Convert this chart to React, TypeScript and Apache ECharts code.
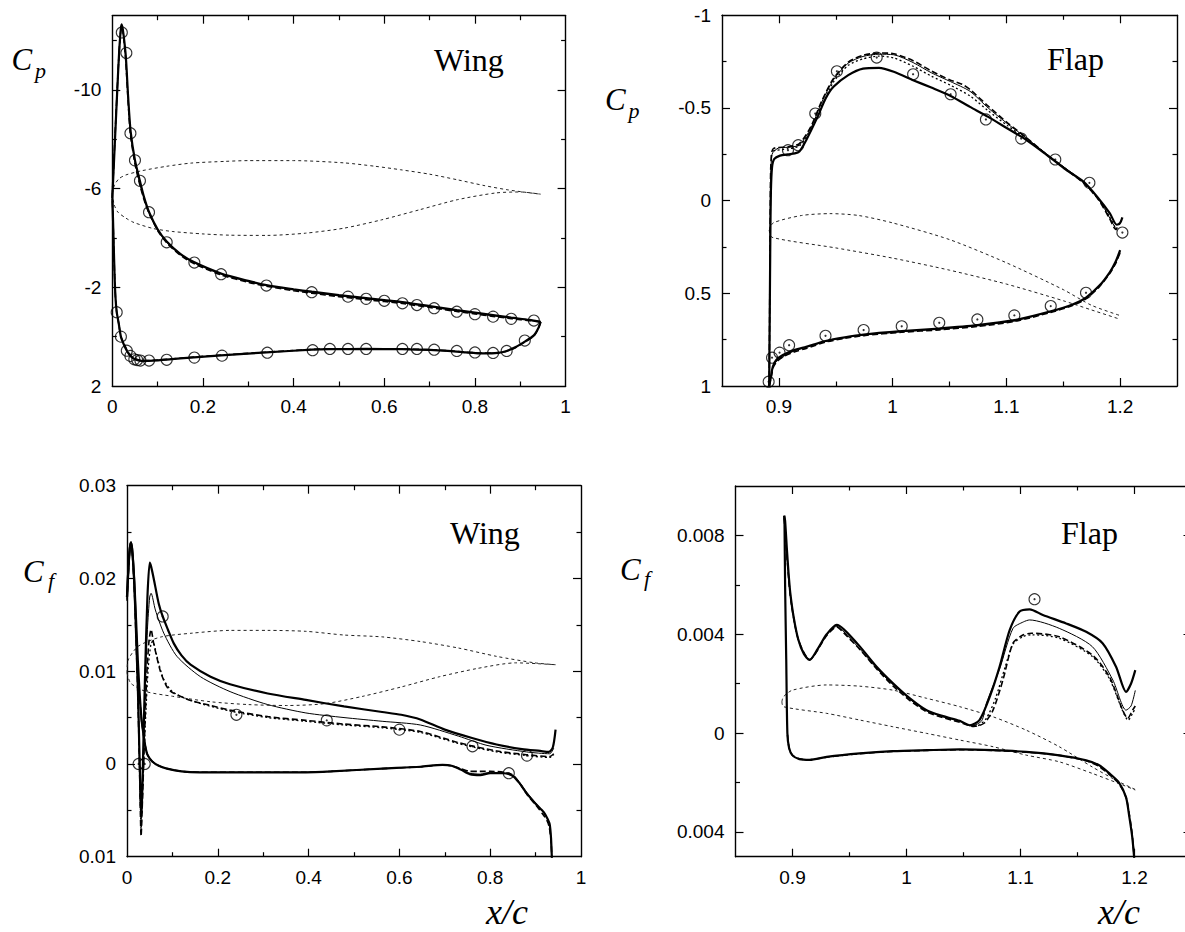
import React, { useEffect, useRef } from "react";
import * as echarts from "echarts";

// ================= Panel 1 : Wing, Cp =================
const wingCpThickUpper = [[0.0,-5.6],[0.005,-7.6],[0.01,-9.6],[0.015,-11.5],[0.019,-12.5],[0.021,-12.65],[0.025,-12.2],[0.03,-11.3],[0.035,-9.7],[0.0405,-8.3],[0.05,-7.15],[0.061,-6.3],[0.07,-5.65],[0.081,-5.05],[0.1,-4.35],[0.12,-3.85],[0.15,-3.35],[0.18,-3.02],[0.24,-2.56],[0.3,-2.26],[0.34,-2.09],[0.4,-1.92],[0.44,-1.82],[0.5,-1.68],[0.56,-1.56],[0.6,-1.48],[0.64,-1.4],[0.7,-1.24],[0.76,-1.07],[0.8,-0.97],[0.84,-0.87],[0.88,-0.77],[0.92,-0.68],[0.945,-0.6]];
const wingCpThickLower = [[0.945,-0.6],[0.94,-0.35],[0.93,-0.05],[0.91,0.2],[0.89,0.42],[0.87,0.58],[0.85,0.66],[0.82,0.68],[0.78,0.64],[0.74,0.58],[0.7,0.54],[0.64,0.51],[0.56,0.5],[0.48,0.51],[0.44,0.53],[0.34,0.64],[0.24,0.76],[0.18,0.84],[0.12,0.93],[0.09,0.97],[0.07,0.98],[0.06,0.97],[0.05,0.92],[0.04,0.78],[0.032,0.57],[0.025,0.3],[0.019,0.0],[0.014,-0.55],[0.0097,-1.0],[0.007,-1.6],[0.005,-2.5],[0.003,-3.8],[0.0015,-4.8],[0.0,-5.6]];
const wingCpDashedUpper = [[0.0,-5.7],[0.005,-7.7],[0.01,-9.7],[0.015,-11.5],[0.019,-12.45],[0.021,-12.55],[0.025,-12.15],[0.03,-11.1],[0.035,-9.5],[0.04,-8.2],[0.05,-7.0],[0.06,-6.2],[0.07,-5.55],[0.081,-5.0],[0.1,-4.3],[0.12,-3.8],[0.15,-3.3],[0.18,-2.96],[0.24,-2.5],[0.3,-2.2],[0.34,-2.04],[0.4,-1.86],[0.44,-1.76],[0.5,-1.62],[0.56,-1.5],[0.6,-1.42],[0.64,-1.34],[0.7,-1.18],[0.76,-1.02],[0.8,-0.92],[0.84,-0.82],[0.88,-0.73],[0.92,-0.65],[0.945,-0.6]];
const wingCpDashedLower = [[0.945,-0.6],[0.94,-0.33],[0.93,-0.03],[0.91,0.22],[0.89,0.44],[0.87,0.59],[0.85,0.66],[0.82,0.67],[0.78,0.63],[0.74,0.57],[0.7,0.53],[0.64,0.5],[0.56,0.49],[0.48,0.5],[0.44,0.52],[0.34,0.63],[0.24,0.75],[0.18,0.83],[0.12,0.92],[0.09,0.96],[0.07,0.97],[0.055,0.93],[0.045,0.84],[0.035,0.64],[0.027,0.33],[0.019,0.0],[0.014,-0.55],[0.0097,-1.0],[0.007,-1.6],[0.005,-2.5],[0.003,-3.8],[0.0015,-4.8],[0.0,-5.7]];
const wingCpThinUpper = [[0.0,-5.65],[0.005,-7.65],[0.01,-9.65],[0.015,-11.5],[0.019,-12.48],[0.021,-12.6],[0.025,-12.18],[0.03,-11.2],[0.035,-9.6],[0.04,-8.25],[0.05,-7.08],[0.06,-6.25],[0.07,-5.6],[0.081,-5.02],[0.1,-4.32],[0.12,-3.82],[0.15,-3.32],[0.18,-2.99],[0.24,-2.53],[0.3,-2.23],[0.34,-2.06],[0.4,-1.89],[0.44,-1.79],[0.5,-1.65],[0.56,-1.53],[0.6,-1.45],[0.64,-1.37],[0.7,-1.21],[0.76,-1.05],[0.8,-0.95],[0.84,-0.85],[0.88,-0.75],[0.92,-0.66],[0.945,-0.6]];
const wingCpExpUpper = [[0.021,-12.32],[0.031,-11.49],[0.040,-8.24],[0.050,-7.14],[0.061,-6.31],[0.081,-5.04],[0.12,-3.82],[0.181,-3.0],[0.24,-2.53],[0.34,-2.07],[0.44,-1.80],[0.52,-1.62],[0.56,-1.53],[0.60,-1.45],[0.64,-1.35],[0.672,-1.28],[0.71,-1.15],[0.76,-1.01],[0.80,-0.91],[0.84,-0.81],[0.88,-0.72],[0.93,-0.65]];
const wingCpExpLower = [[0.0097,-0.99],[0.019,0.0],[0.032,0.57],[0.040,0.78],[0.0486,0.92],[0.055,0.95],[0.062,0.97],[0.081,0.97],[0.12,0.94],[0.181,0.85],[0.242,0.77],[0.342,0.65],[0.442,0.55],[0.48,0.50],[0.52,0.50],[0.56,0.50],[0.64,0.50],[0.672,0.50],[0.71,0.53],[0.76,0.58],[0.80,0.64],[0.84,0.66],[0.87,0.58],[0.91,0.16]];
const wingShapeCpUpper = [[0.0,-5.8],[0.005,-6.15],[0.015,-6.4],[0.03,-6.55],[0.065,-6.72],[0.12,-6.9],[0.174,-7.03],[0.25,-7.1],[0.3,-7.13],[0.4,-7.13],[0.51,-7.04],[0.58,-6.9],[0.636,-6.76],[0.7,-6.58],[0.762,-6.35],[0.82,-6.12],[0.871,-5.95],[0.91,-5.85],[0.945,-5.77]];
const wingShapeCpLower = [[0.0,-5.8],[0.004,-5.35],[0.012,-5.05],[0.03,-4.8],[0.048,-4.62],[0.09,-4.38],[0.132,-4.26],[0.2,-4.16],[0.258,-4.11],[0.342,-4.1],[0.426,-4.19],[0.51,-4.39],[0.594,-4.73],[0.678,-5.14],[0.762,-5.55],[0.846,-5.82],[0.9,-5.86],[0.945,-5.77]];

// ================= Panel 2 : Flap, Cp =================
const flapCpThickUpper = [[0.8915,1.0],[0.892,0.6],[0.8925,0.2],[0.893,-0.05],[0.894,-0.18],[0.896,-0.225],[0.901,-0.243],[0.908,-0.25],[0.914,-0.255],[0.918,-0.265],[0.924,-0.326],[0.934,-0.452],[0.941,-0.55],[0.948,-0.614],[0.961,-0.677],[0.974,-0.712],[0.988,-0.716],[1.001,-0.695],[1.018,-0.650],[1.034,-0.610],[1.051,-0.565],[1.068,-0.506],[1.084,-0.452],[1.101,-0.389],[1.118,-0.326],[1.134,-0.254],[1.151,-0.173],[1.168,-0.101],[1.181,-0.012],[1.191,0.069],[1.197,0.13],[1.2,0.12],[1.202,0.09]];
const flapCpThickLower = [[0.8915,1.0],[0.893,0.95],[0.8947,0.895],[0.8977,0.86],[0.9035,0.833],[0.914,0.805],[0.924,0.788],[0.941,0.757],[0.958,0.737],[0.9745,0.722],[1.008,0.704],[1.041,0.69],[1.0745,0.672],[1.107,0.645],[1.139,0.597],[1.1586,0.559],[1.17,0.523],[1.182,0.457],[1.191,0.385],[1.196,0.33],[1.2,0.267]];
const flapCpDashedUpper = [[0.8915,1.0],[0.892,0.5],[0.8925,0.0],[0.893,-0.2],[0.895,-0.28],[0.908,-0.29],[0.918,-0.308],[0.928,-0.398],[0.938,-0.542],[0.948,-0.659],[0.961,-0.748],[0.974,-0.784],[0.988,-0.797],[1.001,-0.793],[1.018,-0.755],[1.034,-0.70],[1.051,-0.65],[1.061,-0.628],[1.068,-0.60],[1.084,-0.51],[1.101,-0.42],[1.118,-0.338],[1.134,-0.256],[1.151,-0.175],[1.168,-0.094],[1.181,-0.005],[1.191,0.1],[1.196,0.155],[1.2,0.12]];
const flapCpDottedUpper = [[0.895,-0.27],[0.908,-0.28],[0.918,-0.295],[0.928,-0.38],[0.938,-0.52],[0.948,-0.64],[0.961,-0.73],[0.974,-0.765],[0.988,-0.78],[1.001,-0.77],[1.018,-0.725],[1.034,-0.672],[1.051,-0.622],[1.068,-0.565],[1.084,-0.485],[1.101,-0.405],[1.118,-0.332],[1.134,-0.256],[1.151,-0.176],[1.168,-0.096],[1.181,-0.008],[1.191,0.09],[1.196,0.15]];
const flapCpThinUpper = [[0.8915,1.0],[0.8925,0.0],[0.894,-0.25],[0.9,-0.285],[0.908,-0.288],[0.918,-0.3],[0.928,-0.39],[0.938,-0.535],[0.948,-0.652],[0.961,-0.742],[0.974,-0.778],[0.988,-0.79],[1.001,-0.787],[1.018,-0.745],[1.034,-0.69],[1.051,-0.642],[1.068,-0.59],[1.084,-0.5],[1.101,-0.415],[1.118,-0.336],[1.134,-0.258],[1.151,-0.18],[1.168,-0.1],[1.181,-0.01],[1.191,0.095],[1.197,0.16]];
const flapCpDashedLower = [[0.8915,1.0],[0.8937,0.94],[0.895,0.9],[0.898,0.87],[0.9035,0.843],[0.914,0.815],[0.924,0.797],[0.941,0.763],[0.958,0.743],[0.9745,0.728],[1.008,0.71],[1.041,0.697],[1.0745,0.679],[1.107,0.652],[1.139,0.603],[1.1586,0.565],[1.17,0.53],[1.182,0.463],[1.191,0.392],[1.196,0.34],[1.2,0.28]];
const flapCpThinLower = [[0.8915,1.0],[0.8933,0.945],[0.8948,0.897],[0.8978,0.865],[0.9035,0.838],[0.914,0.81],[0.924,0.792],[0.941,0.76],[0.958,0.74],[0.9745,0.725],[1.008,0.707],[1.041,0.693],[1.0745,0.675],[1.107,0.648],[1.139,0.6],[1.1586,0.562],[1.17,0.527],[1.182,0.46],[1.191,0.388],[1.196,0.335],[1.2,0.275]];
const flapCpExpUpper = [[0.908,-0.272],[0.917,-0.299],[0.932,-0.470],[0.951,-0.698],[0.986,-0.772],[1.018,-0.682],[1.051,-0.574],[1.082,-0.438],[1.113,-0.335],[1.143,-0.222],[1.173,-0.096],[1.202,0.172]];
const flapCpExpLower = [[0.891,0.977],[0.894,0.847],[0.9006,0.82],[0.909,0.78],[0.941,0.729],[0.9745,0.698],[1.008,0.678],[1.041,0.659],[1.0745,0.641],[1.107,0.619],[1.139,0.569],[1.170,0.497]];
const flapShapeCpUpper = [[0.8915,0.16],[0.895,0.12],[0.92,0.08],[0.945,0.07],[0.97,0.08],[1.0,0.12],[1.05,0.21],[1.1,0.335],[1.15,0.48],[1.175,0.565],[1.2,0.62]];
const flapShapeCpLower = [[0.8915,0.16],[0.894,0.198],[0.95,0.255],[1.0,0.31],[1.05,0.375],[1.1,0.45],[1.15,0.54],[1.175,0.59],[1.2,0.64]];

// ================= Panel 3 : Wing, Cf =================
const wingCfThickLower = [[0.936,-0.0105],[0.934,-0.008],[0.931,-0.0065],[0.925,-0.0058],[0.918,-0.0052],[0.9,-0.0043],[0.881,-0.0032],[0.865,-0.0021],[0.85,-0.0013],[0.83,-0.001],[0.8,-0.001],[0.778,-0.0012],[0.755,-0.0011],[0.735,-0.0006],[0.715,-0.0002],[0.695,-0.0001],[0.646,-0.0003],[0.562,-0.0005],[0.45,-0.0008],[0.394,-0.0009],[0.3,-0.0009],[0.227,-0.0009],[0.16,-0.0009],[0.12,-0.0008],[0.088,-0.0005],[0.07,-0.0002],[0.055,0.0003],[0.045,0.001],[0.04,0.002],[0.036,0.0033],[0.032,0.0048],[0.028,0.0075],[0.024,0.011],[0.02,0.0155],[0.016,0.0198],[0.012,0.0228],[0.009,0.0239],[0.006,0.0232],[0.003,0.021],[0.0,0.018]];
const wingCfThickUpper = [[0.0,0.018],[0.003,0.021],[0.006,0.0232],[0.009,0.0239],[0.012,0.0228],[0.016,0.0195],[0.02,0.014],[0.024,0.008],[0.027,0.002],[0.029,-0.002],[0.031,-0.0055],[0.033,-0.004],[0.036,0.002],[0.04,0.01],[0.045,0.018],[0.05,0.0217],[0.053,0.0213],[0.0588,0.0200],[0.0698,0.0173],[0.0786,0.0159],[0.09,0.0145],[0.103,0.0130],[0.12,0.0117],[0.14,0.0107],[0.184,0.0094],[0.227,0.0086],[0.31,0.0076],[0.394,0.0069],[0.478,0.0062],[0.562,0.0056],[0.604,0.0053],[0.646,0.0048],[0.7,0.0037],[0.76,0.0028],[0.814,0.0021],[0.87,0.0016],[0.91,0.0014],[0.929,0.0013],[0.938,0.0018],[0.944,0.0037]];
const wingCfThinUpper = [[0.0,0.0178],[0.003,0.0208],[0.006,0.023],[0.009,0.0238],[0.012,0.0226],[0.016,0.0193],[0.02,0.0138],[0.024,0.0078],[0.027,0.0018],[0.029,-0.0025],[0.031,-0.006],[0.033,-0.0045],[0.036,0.001],[0.04,0.008],[0.045,0.0145],[0.05,0.018],[0.053,0.0184],[0.0625,0.0166],[0.081,0.0141],[0.11,0.0116],[0.162,0.0094],[0.227,0.0078],[0.31,0.0064],[0.394,0.0055],[0.478,0.005],[0.562,0.0046],[0.646,0.0042],[0.73,0.003],[0.793,0.002],[0.88,0.0013],[0.931,0.0011],[0.94,0.0017]];
const wingCfDashedUpper = [[0.0,0.0176],[0.003,0.0206],[0.006,0.0229],[0.009,0.0237],[0.012,0.0225],[0.016,0.019],[0.02,0.0135],[0.024,0.0072],[0.027,0.001],[0.029,-0.004],[0.031,-0.0078],[0.034,-0.004],[0.038,0.002],[0.043,0.009],[0.048,0.013],[0.053,0.0145],[0.0588,0.013],[0.0735,0.01],[0.088,0.0083],[0.1,0.0077],[0.143,0.0068],[0.185,0.0063],[0.227,0.0058],[0.31,0.0051],[0.394,0.0047],[0.478,0.0043],[0.562,0.004],[0.646,0.0035],[0.73,0.0023],[0.814,0.0014],[0.88,0.001],[0.931,0.0008],[0.94,0.0011]];
const wingCfDottedUpper = [[0.027,0.0015],[0.029,-0.003],[0.031,-0.007],[0.035,-0.002],[0.04,0.004],[0.047,0.0105],[0.053,0.013],[0.057,0.0132],[0.065,0.0118],[0.08,0.0092],[0.1,0.0078],[0.143,0.0068],[0.227,0.0057],[0.31,0.005],[0.394,0.0046],[0.478,0.0042],[0.562,0.0039],[0.646,0.0034],[0.73,0.0022],[0.814,0.0013],[0.88,0.0009],[0.931,0.0007],[0.94,0.001]];
const wingCfDashedLower = [[0.936,-0.0105],[0.934,-0.0082],[0.93,-0.0068],[0.926,-0.0062],[0.92,-0.0057],[0.9,-0.0044],[0.881,-0.0033],[0.865,-0.0021],[0.85,-0.0012],[0.83,-0.0009],[0.8,-0.0008],[0.778,-0.0008],[0.755,-0.0008],[0.735,-0.0005],[0.715,-0.0002],[0.695,-0.0001],[0.646,-0.0003],[0.562,-0.0005],[0.45,-0.0008],[0.394,-0.0009],[0.3,-0.0009],[0.227,-0.0009],[0.16,-0.0009],[0.12,-0.0008],[0.088,-0.0005],[0.07,-0.0002],[0.055,0.0003],[0.045,0.001],[0.04,0.002],[0.036,0.0033],[0.032,0.0047],[0.028,0.0073]];
const wingCfThinLower = [[0.936,-0.0105],[0.933,-0.0078],[0.929,-0.0062],[0.922,-0.0055],[0.912,-0.0049],[0.9,-0.0042],[0.881,-0.0031],[0.865,-0.002],[0.85,-0.0013],[0.83,-0.001],[0.8,-0.0009],[0.778,-0.0011],[0.755,-0.001],[0.735,-0.0006],[0.715,-0.0002],[0.695,-0.0001],[0.646,-0.0003],[0.562,-0.0005],[0.45,-0.0008],[0.394,-0.0009],[0.3,-0.0009],[0.227,-0.0009],[0.16,-0.0009],[0.12,-0.0008],[0.088,-0.0005],[0.07,-0.0002],[0.055,0.0003],[0.045,0.001],[0.04,0.002],[0.036,0.0033],[0.032,0.0048]];
const wingCfExp = [[0.0256,0.0],[0.039,0.0],[0.0786,0.0159],[0.241,0.0053],[0.44,0.0047],[0.6,0.0037],[0.761,0.0019],[0.841,-0.001],[0.881,0.0009]];
const wingShapeCfUpper = [[0.0,0.0098],[0.0025,0.0112],[0.025,0.0127],[0.0755,0.0137],[0.143,0.0141],[0.227,0.0144],[0.31,0.0144],[0.394,0.0143],[0.478,0.0139],[0.562,0.0137],[0.646,0.0132],[0.73,0.0125],[0.814,0.0116],[0.898,0.0109],[0.944,0.0107]];
const wingShapeCfLower = [[0.0,0.0098],[0.0084,0.0087],[0.042,0.0078],[0.1,0.0073],[0.185,0.0067],[0.268,0.0064],[0.352,0.0063],[0.436,0.0065],[0.52,0.0073],[0.604,0.0083],[0.688,0.0094],[0.772,0.0103],[0.856,0.0109],[0.944,0.0107]];

// ================= Panel 4 : Flap, Cf =================
const flapCfThickLower = [[1.2,-0.0052],[1.198,-0.0042],[1.1955,-0.0034],[1.1926,-0.0026],[1.1864,-0.002],[1.178,-0.00163],[1.169,-0.0013],[1.1576,-0.0011],[1.134,-0.0009],[1.105,-0.00076],[1.076,-0.00069],[1.047,-0.00066],[1.018,-0.00069],[0.988,-0.00073],[0.959,-0.00082],[0.93,-0.00096],[0.915,-0.00108],[0.906,-0.00105],[0.9,-0.0009],[0.897,-0.0006],[0.8955,0.0],[0.8945,0.003],[0.8935,0.006],[0.893,0.0085],[0.8927,0.0088]];
const flapCfThickUpper = [[0.8927,0.0088],[0.8935,0.0086],[0.895,0.0075],[0.8965,0.0065],[0.898,0.0057],[0.901,0.0047],[0.905,0.0038],[0.91,0.0032],[0.915,0.00296],[0.922,0.0034],[0.93,0.0040],[0.9388,0.00438],[0.945,0.0042],[0.9592,0.0035],[0.9738,0.00269],[0.9884,0.00201],[1.003,0.00141],[1.0176,0.00093],[1.032,0.00069],[1.0467,0.0005],[1.0555,0.00032],[1.064,0.00053],[1.073,0.00147],[1.0817,0.00269],[1.0905,0.00417],[1.0992,0.00492],[1.108,0.00501],[1.1196,0.00478],[1.14,0.00444],[1.1576,0.0041],[1.172,0.00364],[1.1838,0.00269],[1.1926,0.00167],[1.197,0.00201],[1.2007,0.00255]];
const flapCfThinUpper = [[0.8927,0.0087],[0.898,0.0056],[0.905,0.0038],[0.915,0.00296],[0.93,0.00398],[0.9388,0.00432],[0.945,0.0041],[0.9592,0.0034],[0.9738,0.00262],[0.9884,0.00195],[1.003,0.00137],[1.0176,0.0009],[1.032,0.00066],[1.0467,0.00047],[1.0575,0.0003],[1.066,0.0005],[1.07,0.0012],[1.0817,0.0026],[1.0934,0.00424],[1.1025,0.0045],[1.108,0.00458],[1.134,0.00424],[1.163,0.0035],[1.181,0.00215],[1.1926,0.00093],[1.197,0.0011],[1.2007,0.00173]];
const flapCfDashedUpper = [[0.8927,0.0087],[0.898,0.0056],[0.905,0.0038],[0.915,0.00298],[0.93,0.00395],[0.9388,0.0043],[0.945,0.00405],[0.9592,0.00338],[0.9738,0.0026],[0.9884,0.0019],[1.003,0.00132],[1.0176,0.00086],[1.032,0.00063],[1.0467,0.00044],[1.059,0.00027],[1.068,0.0004],[1.0759,0.00093],[1.0846,0.00215],[1.0934,0.00364],[1.1021,0.00397],[1.1095,0.00404],[1.134,0.0039],[1.163,0.00316],[1.178,0.00228],[1.1896,0.00093],[1.194,0.0006],[1.1983,0.00093],[1.2007,0.0011]];
const flapCfDottedUpper = [[1.055,0.0003],[1.062,0.0003],[1.07,0.0006],[1.078,0.0014],[1.0867,0.0027],[1.0934,0.0036],[1.1021,0.0039],[1.1095,0.00398],[1.134,0.00384],[1.163,0.0031],[1.178,0.0022],[1.1896,0.0009],[1.1945,0.00052],[1.1983,0.0008],[1.2007,0.001]];
const flapCfDashedLower = [[1.2,-0.0052],[1.198,-0.0041],[1.1955,-0.0033],[1.1926,-0.0026],[1.1864,-0.00205],[1.178,-0.00168],[1.169,-0.00135],[1.1576,-0.00112],[1.134,-0.0009],[1.105,-0.00077],[1.076,-0.0007],[1.047,-0.00067],[1.018,-0.0007],[0.988,-0.00074],[0.959,-0.00083],[0.93,-0.00097],[0.915,-0.00108],[0.906,-0.00104],[0.9,-0.0009],[0.897,-0.0006],[0.8955,0.0]];
const flapCfExp = [[1.1123,0.00542]];
const flapShapeCfUpper = [[0.8907,0.00127],[0.892,0.00147],[0.9,0.00174],[0.93,0.00195],[0.959,0.0019],[0.988,0.00174],[1.0176,0.00141],[1.0467,0.00107],[1.076,0.00066],[1.105,0.00012],[1.134,-0.00055],[1.163,-0.00137],[1.1864,-0.00197],[1.2007,-0.00228]];
const flapShapeCfLower = [[0.8907,0.00127],[0.892,0.00107],[0.93,0.0008],[0.959,0.00053],[0.988,0.00026],[1.0176,-0.00001],[1.0467,-0.00028],[1.076,-0.00055],[1.105,-0.00089],[1.134,-0.00116],[1.163,-0.00163],[1.1864,-0.00204],[1.2007,-0.0023]];

// ================= Axis ticks / labels =================
const wingXLabels = [0, 0.2, 0.4, 0.6, 0.8, 1];
const wingXMajor = [0.2, 0.4, 0.6, 0.8];
const wingXMinor = [0.1, 0.3, 0.5, 0.7, 0.9];
const flapXLabels = [0.9, 1, 1.1, 1.2];
const flapXMajor = [0.9, 1, 1.1, 1.2];
const flapXMinor = [0.95, 1.05, 1.15];
const wingCpYLabels = [-10, -6, -2, 2];
const wingCpYMajor = [-10, -6, -2];
const wingCpYMinor = [-12, -8, -4, 0];
const flapCpYLabels = [-1, -0.5, 0, 0.5, 1];
const flapCpYMajor = [-0.5, 0, 0.5];
const flapCpYMinor = [-0.75, -0.25, 0.25, 0.75];
const wingCfYLabels = [-0.01, 0, 0.01, 0.02, 0.03];
const wingCfYMajor = [0, 0.01, 0.02];
const wingCfYMinor = [-0.005, 0.005, 0.015, 0.025];
const flapCfYLabels = [-0.004, 0, 0.004, 0.008];
const flapCfYMajor = [-0.004, 0, 0.004, 0.008];
const flapCfYMinor = [-0.002, 0.002, 0.006];

const SANS = "'Liberation Sans', Arial, Helvetica, sans-serif";
const SERIF = "'Liberation Serif', 'Times New Roman', serif";

const fmtPlain = (v: number) => String(v);
const fmtAbs = (v: number) => String(Math.abs(v));

const gridBoxes = [
  { left: 112.3, top: 15.7, width: 453.3, height: 370.3 },
  { left: 722, top: 15.3, width: 455, height: 370.7 },
  { left: 127, top: 485.7, width: 454, height: 371 },
  { left: 735.5, top: 486, width: 456, height: 370.7 },
];

const panels = [
  { xmin: 0, xmax: 1, xL: wingXLabels, xMaj: wingXMajor, xMin: wingXMinor, ymin: -13, ymax: 2, inv: true, yL: wingCpYLabels, yMaj: wingCpYMajor, yMin: wingCpYMinor, fmt: fmtPlain },
  { xmin: 0.85, xmax: 1.25, xL: flapXLabels, xMaj: flapXMajor, xMin: flapXMinor, ymin: -1, ymax: 1, inv: true, yL: flapCpYLabels, yMaj: flapCpYMajor, yMin: flapCpYMinor, fmt: fmtPlain },
  { xmin: 0, xmax: 1, xL: wingXLabels, xMaj: wingXMajor, xMin: wingXMinor, ymin: -0.01, ymax: 0.03, inv: false, yL: wingCfYLabels, yMaj: wingCfYMajor, yMin: wingCfYMinor, fmt: fmtAbs },
  { xmin: 0.85, xmax: 1.25, xL: flapXLabels, xMaj: flapXMajor, xMin: flapXMinor, ymin: -0.005, ymax: 0.01, inv: false, yL: flapCfYLabels, yMaj: flapCfYMajor, yMin: flapCfYMinor, fmt: fmtAbs },
];

function sideAxes(gridIndex: number, position: string, min: number, max: number, major: number[], minor: number[], labels: number[] | null, inverse: boolean, fmt: (v: number) => string) {
  const common: any = { type: "value", gridIndex, position, min, max, inverse, splitLine: { show: false }, axisPointer: { show: false }, silent: true };
  const majorAxis = {
    ...common,
    axisLine: { show: true, onZero: false, lineStyle: { color: "#000", width: 1.4 } },
    axisTick: { show: true, inside: true, length: 8, customValues: major, lineStyle: { color: "#000", width: 1.2 } },
    axisLabel: labels
      ? { show: true, customValues: labels, formatter: fmt, color: "#000", fontSize: 19, fontFamily: SANS, margin: 11 }
      : { show: false },
  };
  const minorAxis = {
    ...common,
    axisLine: { show: false, onZero: false },
    axisTick: { show: true, inside: true, length: 4.5, customValues: minor, lineStyle: { color: "#000", width: 1.2 } },
    axisLabel: { show: false },
  };
  return [majorAxis, minorAxis];
}

const ST_THICK = { color: "#000", width: 2.2, type: "solid" };
const ST_THIN = { color: "#000", width: 1, type: "solid" };
const ST_DASH = { color: "#000", width: 1.6, type: [6, 3] };
const ST_DOT = { color: "#000", width: 1.3, type: [2, 2.5] };
const ST_SHAPE = { color: "#222", width: 1, type: [3, 3] };

function line(g: number, data: number[][], style: any, z = 3) {
  return { type: "line", xAxisIndex: 4 * g, yAxisIndex: 4 * g, data, showSymbol: false, symbol: "none", smooth: 0.25, lineStyle: style, silent: true, z, clip: true };
}
function circles(g: number, data: number[][], dotted: boolean) {
  const out: any[] = [
    { type: "scatter", xAxisIndex: 4 * g, yAxisIndex: 4 * g, data, symbol: "circle", symbolSize: 11, itemStyle: { color: "rgba(0,0,0,0)", borderColor: "#000", borderWidth: 1.1 }, z: 5, silent: true },
  ];
  if (dotted) out.push({ type: "scatter", xAxisIndex: 4 * g, yAxisIndex: 4 * g, data, symbol: "circle", symbolSize: 2.2, itemStyle: { color: "#000" }, z: 6, silent: true });
  return out;
}
function txt(text: string, x: number, y: number, size: number, italic: boolean) {
  return {
    type: "text", x, y, silent: true,
    style: { text, font: `${italic ? "italic " : ""}${size}px ${SERIF}`, fill: "#000", align: "left", verticalAlign: "middle", textAlign: "left", textVerticalAlign: "middle" },
  };
}

function buildOption() {
  const xAxis: any[] = [];
  const yAxis: any[] = [];
  panels.forEach((p, g) => {
    xAxis.push(...sideAxes(g, "bottom", p.xmin, p.xmax, p.xMaj, p.xMin, p.xL, false, fmtPlain));
    xAxis.push(...sideAxes(g, "top", p.xmin, p.xmax, p.xMaj, p.xMin, null, false, fmtPlain));
    yAxis.push(...sideAxes(g, "left", p.ymin, p.ymax, p.yMaj, p.yMin, p.yL, p.inv, p.fmt));
    yAxis.push(...sideAxes(g, "right", p.ymin, p.ymax, p.yMaj, p.yMin, null, p.inv, p.fmt));
  });

  const series: any[] = [
    // panel 1
    line(0, wingShapeCpUpper, ST_SHAPE, 2), line(0, wingShapeCpLower, ST_SHAPE, 2),
    line(0, wingCpDashedUpper, ST_DASH), line(0, wingCpDashedLower, ST_DASH),
    line(0, wingCpThinUpper, ST_THIN),
    line(0, wingCpThickUpper, ST_THICK), line(0, wingCpThickLower, ST_THICK),
    ...circles(0, wingCpExpUpper, false), ...circles(0, wingCpExpLower, false),
    // panel 2
    line(1, flapShapeCpUpper, ST_SHAPE, 2), line(1, flapShapeCpLower, ST_SHAPE, 2),
    line(1, flapCpDashedUpper, ST_DASH), line(1, flapCpDashedLower, ST_DASH),
    line(1, flapCpDottedUpper, ST_DOT),
    line(1, flapCpThinUpper, ST_THIN), line(1, flapCpThinLower, ST_THIN),
    line(1, flapCpThickUpper, ST_THICK), line(1, flapCpThickLower, ST_THICK),
    ...circles(1, flapCpExpUpper, true), ...circles(1, flapCpExpLower, true),
    // panel 3
    line(2, wingShapeCfUpper, ST_SHAPE, 2), line(2, wingShapeCfLower, ST_SHAPE, 2),
    line(2, wingCfDashedUpper, ST_DASH), line(2, wingCfDashedLower, ST_DASH),
    line(2, wingCfDottedUpper, ST_DOT),
    line(2, wingCfThinUpper, ST_THIN), line(2, wingCfThinLower, ST_THIN),
    line(2, wingCfThickUpper, ST_THICK), line(2, wingCfThickLower, ST_THICK),
    ...circles(2, wingCfExp, true),
    // panel 4
    line(3, flapShapeCfUpper, ST_SHAPE, 2), line(3, flapShapeCfLower, ST_SHAPE, 2),
    line(3, flapCfDashedUpper, ST_DASH), line(3, flapCfDashedLower, ST_DASH),
    line(3, flapCfDottedUpper, ST_DOT),
    line(3, flapCfThinUpper, ST_THIN),
    line(3, flapCfThickUpper, ST_THICK), line(3, flapCfThickLower, ST_THICK),
    ...circles(3, flapCfExp, true),
  ];

  const graphic: any[] = [
    txt("C", 11.5, 59.5, 31, true), txt("p", 35, 70, 22, true),
    txt("C", 605, 99.5, 31, true), txt("p", 628.5, 110, 22, true),
    txt("C", 23, 571.5, 31, true), txt("f", 48, 580, 22, true),
    txt("C", 620, 569.5, 31, true), txt("f", 644, 578, 22, true),
    txt("Wing", 434, 60, 32, false),
    txt("Flap", 1047, 59, 32, false),
    txt("Wing", 450, 533, 32, false),
    txt("Flap", 1061, 533, 32, false),
    txt("x/c", 486, 912, 36, true),
    txt("x/c", 1098, 912, 36, true),
  ];

  return {
    animation: false,
    backgroundColor: "#fff",
    grid: gridBoxes.map((b) => ({ ...b, containLabel: false })),
    xAxis,
    yAxis,
    series,
    graphic,
  };
}

export default function App() {
  const ref = useRef<HTMLDivElement>(null);
  useEffect(() => {
    const chart = echarts.init(ref.current as HTMLDivElement, null, { renderer: "svg" });
    chart.setOption(buildOption() as any);
    return () => chart.dispose();
  }, []);
  return (
    <div style={{ position: "absolute", left: 0, top: 0, width: 1185, height: 932, overflow: "hidden", background: "#fff" }}>
      <div ref={ref} style={{ width: 1200, height: 932 }} />
    </div>
  );
}
